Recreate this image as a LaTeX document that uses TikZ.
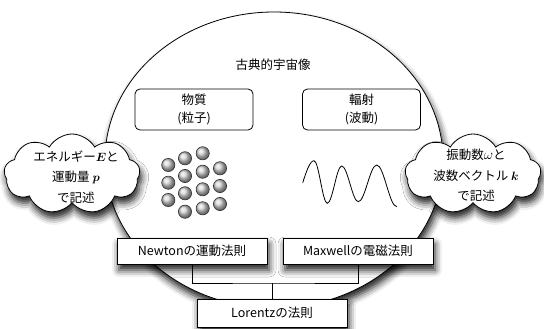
\documentclass[tikz,border=0pt]{standalone}
\usepackage{amsmath}
\usepackage{bm}
\usepackage{fontspec}
\setmainfont{Noto Sans CJK JP}
\usetikzlibrary{shapes.geometric,shapes.symbols,shadows.blur}
\tikzset{
  myshadow/.style={blur shadow={shadow xshift=2pt, shadow yshift=-6pt, shadow blur radius=7pt, shadow opacity=90}},
  rbox/.style={draw, line width=0.8pt, rounded corners=5pt, minimum width=118pt, minimum height=41pt, inner sep=0pt, align=center, font=\fontsize{12.5}{18}\selectfont},
  lawbox/.style={draw, line width=0.8pt, fill=white, myshadow, minimum width=150pt, minimum height=26pt, inner sep=0pt},
  cloudshape/.style={cloud, cloud puffs=9, cloud puff arc=120, cloud ignores aspect, draw, line width=0.8pt, fill=white, myshadow, minimum width=136pt, minimum height=80pt, inner sep=0pt},
  cloudtext/.style={align=center, inner sep=0pt, font=\fontsize{12.5}{20.5}\selectfont},
  ballstyle/.style={draw=black!80, line width=0.6pt, ball color=gray!35},
  wire/.style={line width=0.8pt}
}
\begin{document}
\begin{tikzpicture}[x=1pt,y=-1pt,font=\fontsize{12.5}{18}\selectfont]
\useasboundingbox (0,0) rectangle (544,329);
% main ellipse
\node[draw, ellipse, line width=0.8pt, fill=white, myshadow, minimum width=338pt, minimum height=296pt, inner sep=0pt] (world) at (274,160) {};
\node (title) at (273,65) {古典的宇宙像};
\node[rbox] (matter) at (194,109.5) {物質\\(粒子)};
\node[rbox] (rad) at (361.5,109.5) {輻射\\(波動)};
% balls
\foreach \bx/\by in {168.3/165, 168.3/182.7, 168.3/200,
                     185/158.3, 185/176, 185/193.3, 185/211.7,
                     202.7/153.3, 202.7/171.7, 202.7/189.3, 202.7/208.3,
                     220/168.3, 220/186, 220/204}
  \shadedraw[ballstyle] (\bx,\by) circle (6.6pt);
% wave
\draw[line width=0.8pt] (302.7,182.7) .. controls (306.5,171) and (310,160.7) .. (314,160.7)
  .. controls (318.8,160.7) and (322.5,203.3) .. (327.3,203.3)
  .. controls (332.5,203.3) and (336.5,166) .. (341.7,166)
  .. controls (347.7,166) and (352.3,201.7) .. (358.3,201.7)
  .. controls (365,201.7) and (370,165) .. (376.7,165)
  .. controls (384,165) and (389.4,206.7) .. (396.7,206.7);
% clouds
\node[cloudshape] (lcloud) at (72,174) {};
\node[cloudtext] (ltext) at (76,177) {エネルギー$\bm{E}$と\\運動量 $\bm{p}$\\で記述};
\node[cloudshape] (rcloud) at (473,174) {};
\node[cloudtext] (rtext) at (476,175.5) {振動数{\Large$\omega$}と\\波数ベクトル $\bm{k}$\\で記述};
% law boxes
\node[lawbox] (newton) at (192,251) {Newtonの運動法則};
\node[lawbox] (maxwell) at (358,251) {Maxwellの電磁法則};
\node[lawbox, minimum height=28pt] (lorentz) at (272,313) {Lorentzの法則};
\coordinate (join) at (272,283);
\draw[wire] (newton.south) |- (join) -| (maxwell.south);
\draw[wire] (join) -- (lorentz.north);
\end{tikzpicture}
\end{document}
